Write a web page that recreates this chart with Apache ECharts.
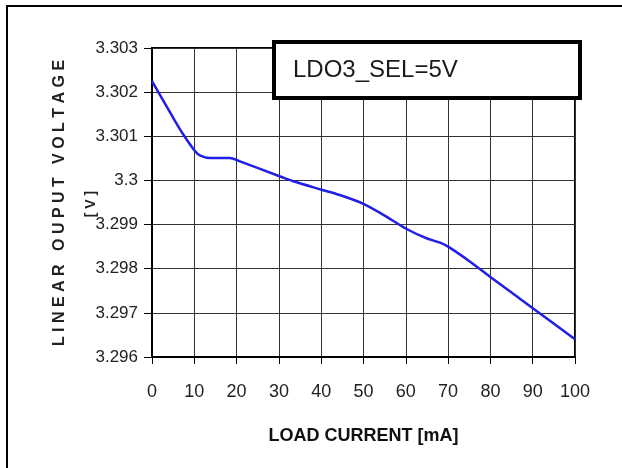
<!DOCTYPE html>
<html>
<head>
<meta charset="utf-8">
<script src="https://cdn.jsdelivr.net/npm/echarts@6/dist/echarts.min.js"></script>
<style>
  html, body { margin: 0; padding: 0; background: #fff; }
  #chart { width: 622px; height: 468px; }
</style>
</head>
<body>
<div id="chart"></div>
<script>
// load current [mA] and output voltage [V]
const loadCurrent = [0, 5, 7.4, 10.2, 11.3, 13.7, 18.4, 20.8, 30.3, 33.4, 40.1, 44.4, 50, 54.7, 60.2, 64.9, 68.1, 70, 75.2, 79.9, 90.1, 100]
const outputVoltage = [3.30225, 3.30142, 3.30104, 3.30066, 3.30057, 3.30051, 3.30051, 3.30043, 3.30009, 3.29998, 3.29979, 3.29967, 3.29947, 3.29922, 3.2989, 3.29869, 3.29859, 3.2985, 3.29816, 3.29782, 3.2971, 3.2964]

const xTickLabels = ['0', '10', '20', '30', '40', '50', '60', '70', '80', '90', '100']
const yTickLabels = ['3.296', '3.297', '3.298', '3.299', '3.3', '3.301', '3.302', '3.303']

const boxLabel = 'LDO3_SEL=5V'
const yTitle = 'L I N E A R   O U P U T   V O L T A G E'
const yUnit = '[ V ]'

const font = '"Liberation Sans", Arial, sans-serif'

let myChart = echarts.init(document.getElementById('chart'))
myChart.setOption({
  animation: false,
  backgroundColor: '#fff',
  title: {
    text: boxLabel,
    left: 274,
    top: 42,
    padding: [16, 122, 16, 19],
    backgroundColor: '#fff',
    borderColor: '#000',
    borderWidth: 4,
    textStyle: {
      fontFamily: font,
      fontSize: 24,
      fontWeight: 'normal',
      color: '#1a1a1a',
    },
  },
  grid: {
    left: 152,
    right: 47,
    top: 48,
    bottom: 111,
    show: true,
    borderColor: '#000',
    borderWidth: 2,
  },
  xAxis: {
    type: 'value',
    min: 0,
    max: 100,
    interval: 10,
    name: 'LOAD CURRENT [mA]',
    nameLocation: 'middle',
    nameGap: 70,
    nameMoveOverlap: false,
    nameTextStyle: {
      fontFamily: font,
      fontSize: 18,
      fontWeight: 'bold',
      color: '#111',
    },
    axisLine: { lineStyle: { color: '#000', width: 2 } },
    axisTick: { length: 7, lineStyle: { color: '#000' } },
    axisLabel: {
      margin: 26,
      fontFamily: font,
      fontSize: 18,
      color: '#222',
      formatter: (v) => xTickLabels[Math.round(v / 10)],
    },
    splitLine: { lineStyle: { color: '#333', width: 1 } },
  },
  yAxis: {
    type: 'value',
    min: 3.296,
    max: 3.303,
    interval: 0.001,
    axisLine: { show: true, lineStyle: { color: '#000', width: 2 } },
    axisTick: { show: true, length: 8, lineStyle: { color: '#000' } },
    axisLabel: {
      margin: 14,
      fontFamily: font,
      fontSize: 17,
      color: '#222',
      formatter: (v) => yTickLabels[Math.round((v - 3.296) * 1000)],
    },
    splitLine: { lineStyle: { color: '#333', width: 1 } },
  },
  graphic: [
    {
      type: 'polyline',
      shape: { points: [[7, 468], [7, 6], [622, 6]] },
      style: { stroke: '#000', lineWidth: 2, fill: null },
      silent: true,
    },
    // y axis title, rotated
    {
      type: 'text',
      x: 60,
      y: 203,
      rotation: Math.PI / 2,
      style: {
        text: yTitle,
        font: 'bold 16px ' + font,
        fill: '#222',
        align: 'center',
        verticalAlign: 'middle',
      },
    },
    {
      type: 'text',
      x: 91,
      y: 204,
      rotation: Math.PI / 2,
      style: {
        text: yUnit,
        font: 'bold 14px ' + font,
        fill: '#222',
        align: 'center',
        verticalAlign: 'middle',
      },
    },
  ],
  series: [
    {
      type: 'line',
      data: loadCurrent.map((x, i) => [x, outputVoltage[i]]),
      smooth: 0.3,
      showSymbol: false,
      lineStyle: { color: '#1f1fe8', width: 2.5 },
    },
  ],
})
</script>
</body>
</html>
